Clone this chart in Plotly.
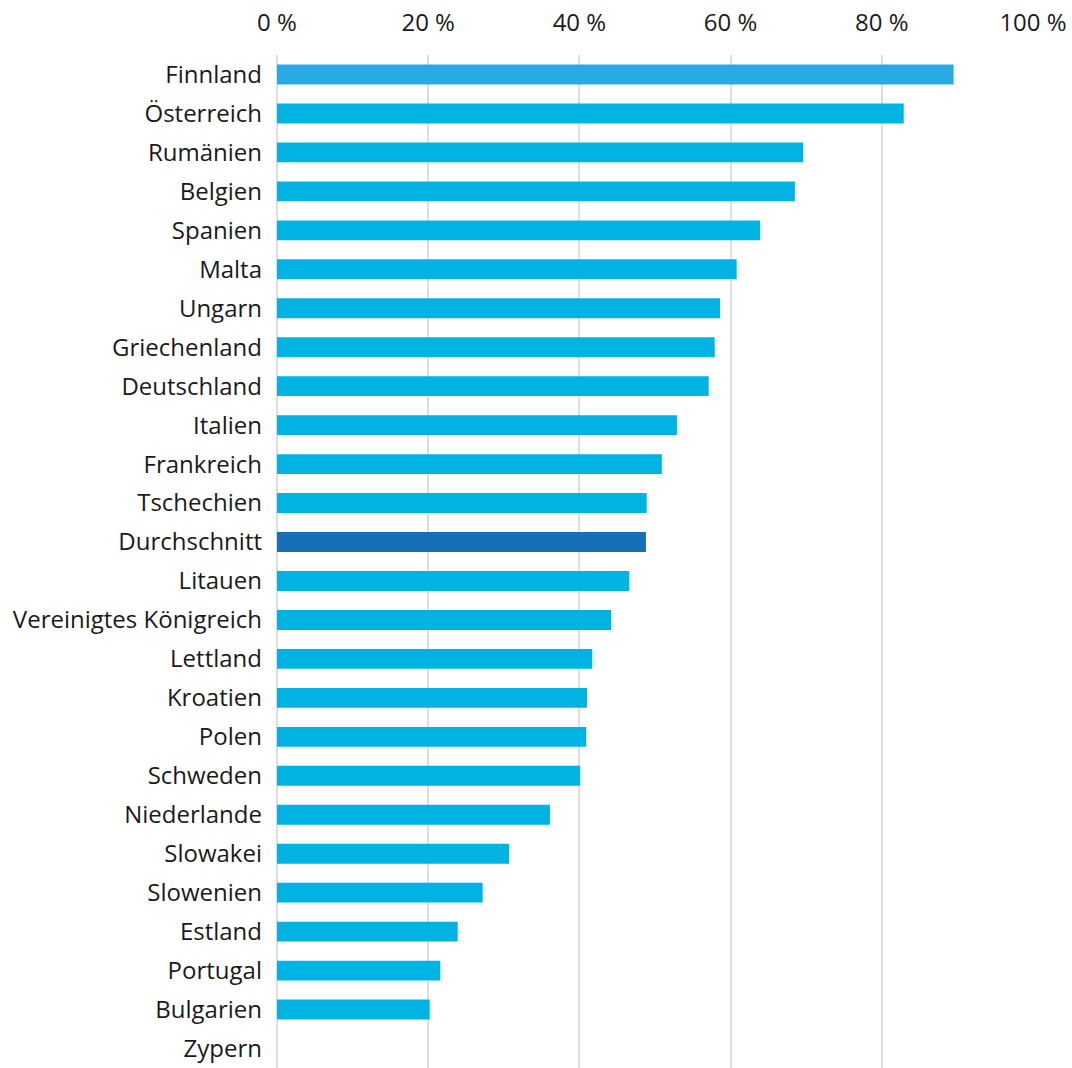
import plotly.graph_objects as go

# Anteil je Land, in Prozent (oben nach unten)
countries = [
    "Finnland", "Österreich", "Rumänien", "Belgien", "Spanien", "Malta",
    "Ungarn", "Griechenland", "Deutschland", "Italien", "Frankreich",
    "Tschechien", "Durchschnitt", "Litauen", "Vereinigtes Königreich",
    "Lettland", "Kroatien", "Polen", "Schweden", "Niederlande", "Slowakei",
    "Slowenien", "Estland", "Portugal", "Bulgarien", "Zypern",
]
shares = [
    89.5, 82.9, 69.6, 68.5, 63.9, 60.8,
    58.6, 57.9, 57.1, 52.9, 50.9,
    48.9, 48.8, 46.6, 44.2,
    41.7, 41.0, 40.9, 40.1, 36.1, 30.7,
    27.2, 23.9, 21.6, 20.2, 0.0,
]
tick_values = [0, 20, 40, 60, 80, 100]
tick_labels = ["0 %", "20 %", "40 %", "60 %", "80 %", "100 %"]

base_color = "#00b3e3"
first_color = "#29abe2"
avg_color = "#176fb7"

colors = []
for c in countries:
    if c == "Durchschnitt":
        colors.append(avg_color)
    elif c == "Finnland":
        colors.append(first_color)
    else:
        colors.append(base_color)

fig = go.Figure(
    go.Bar(
        x=shares,
        y=countries,
        orientation="h",
        marker=dict(color=colors, line=dict(width=0)),
        width=0.51,
        hoverinfo="x+y",
    )
)

font_family = "Open Sans, Noto Sans, sans-serif"
font_size = 24

fig.update_layout(
    width=1072,
    height=1068,
    margin=dict(l=277, r=39, t=55, b=0),
    paper_bgcolor="white",
    plot_bgcolor="white",
    showlegend=False,
    font=dict(family=font_family, size=font_size, color="#1a1a1a"),
    xaxis=dict(
        side="top",
        range=[0, 100],
        tickvals=tick_values,
        ticktext=tick_labels,
        showgrid=True,
        gridcolor="#dedede",
        gridwidth=2,
        zeroline=True,
        zerolinecolor="#dedede",
        zerolinewidth=2,
        showline=False,
        ticks="",
        ticklabelstandoff=18,
        tickfont=dict(size=font_size, family=font_family, color="#1a1a1a"),
        fixedrange=True,
    ),
    yaxis=dict(
        categoryorder="array",
        categoryarray=countries,
        autorange="reversed",
        showgrid=False,
        showline=False,
        ticks="",
        ticklabelstandoff=14,
        tickfont=dict(size=font_size, family=font_family, color="#1a1a1a"),
        fixedrange=True,
    ),
)

fig.write_html("out.html")
